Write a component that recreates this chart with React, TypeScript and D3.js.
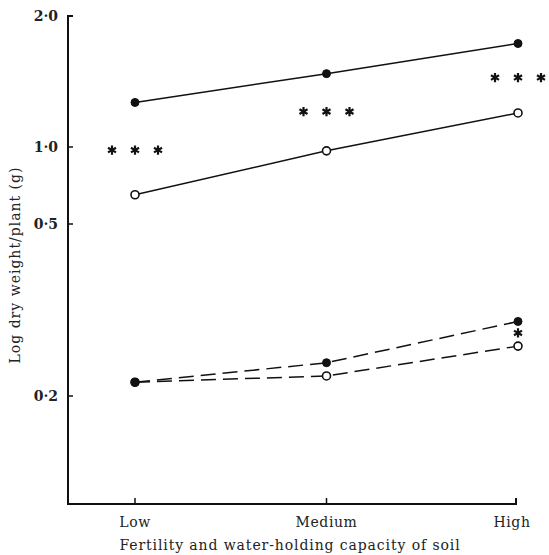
import React from 'react';
import * as d3 from 'd3';

// soil class on x, log dry weight per plant on y
const categories = ['Low', 'Medium', 'High'];
const yTicks = [2.0, 1.0, 0.5, 0.2];
const yTickLabels = ['2·0', '1·0', '0·5', '0·2'];

// solid lines (upper pair) and dashed lines (lower pair)
const solidFilled = [1.34, 1.56, 1.79];
const solidOpen = [0.69, 0.975, 1.26];
const dashedFilled = [0.224, 0.258, 0.33];
const dashedOpen = [0.224, 0.235, 0.287];

// significance marks: category, value, how many stars
const starCats = ['Low', 'Medium', 'High', 'High'];
const starValues = [0.98, 1.27, 1.53, 0.31];
const starCounts = [3, 3, 3, 1];

const W = 549;
const H = 555;

const App = () => {
  const x = d3.scalePoint<string>().domain(categories).range([135, 518]);
  // the printed axis is not evenly spaced, so map each tick piecewise
  const y = d3.scaleLinear().domain([0.2, 0.5, 1, 2]).range([396, 224, 147, 16]);

  const axisLeft = 68;
  const axisBottom = 504;
  const axisRight = 516;

  const line = d3
    .line<number>()
    .x((_, i) => x(categories[i]) as number)
    .y((d) => y(d));

  const star = d3.symbol().type(d3.symbolAsterisk).size(60)();

  const font = '"DejaVu Serif", "Liberation Serif", serif';

  const series = [
    { vals: solidFilled, dash: null, filled: true },
    { vals: solidOpen, dash: null, filled: false },
    { vals: dashedOpen, dash: '15,7', filled: false },
    { vals: dashedFilled, dash: '15,7', filled: true },
  ];

  return (
    <svg width={W} height={H} style={{ position: 'absolute', left: 0, top: 0, background: '#fff' }}>
      {/* axes */}
      <path
        d={`M${axisLeft + 5},${y(2)} H${axisLeft} V${axisBottom} H${axisRight} V${axisBottom - 6}`}
        fill="none"
        stroke="#111"
        strokeWidth={2}
      />
      {yTicks.map((t, i) => (
        <g key={t}>
          <line x1={axisLeft} x2={axisLeft + 5} y1={y(t)} y2={y(t)} stroke="#111" strokeWidth={1.5} />
          <text
            x={58}
            y={y(t)}
            dy="0.35em"
            textAnchor="end"
            fontFamily={font}
            fontSize={14}
            fontWeight={600}
            fill="#222"
          >
            {yTickLabels[i]}
          </text>
        </g>
      ))}
      {categories.map((c) => (
        <g key={c}>
          <line
            x1={c === 'High' ? axisRight : (x(c) as number)}
            x2={c === 'High' ? axisRight : (x(c) as number)}
            y1={axisBottom}
            y2={axisBottom - 6}
            stroke="#111"
            strokeWidth={1.5}
          />
          <text
            x={c === 'High' ? axisRight - 4 : (x(c) as number)}
            y={527}
            textAnchor="middle"
            fontFamily={font}
            fontSize={14}
            fill="#222"
            letterSpacing={0.6}
          >
            {c}
          </text>
        </g>
      ))}
      <text
        x={290}
        y={550}
        textAnchor="middle"
        fontFamily={font}
        fontSize={14}
        fill="#222"
        letterSpacing={0.9}
      >
        Fertility and water-holding capacity of soil
      </text>
      <text
        transform={`translate(20,${265}) rotate(-90)`}
        textAnchor="middle"
        fontFamily={font}
        fontSize={14}
        fill="#222"
        letterSpacing={1}
      >
        Log dry weight/plant (g)
      </text>

      {/* lines and points */}
      {series.map((s, si) => (
        <g key={si}>
          <path
            d={line(s.vals) as string}
            fill="none"
            stroke="#111"
            strokeWidth={1.5}
            strokeDasharray={s.dash ?? undefined}
          />
          {s.vals.map((v, i) => (
            <circle
              key={i}
              cx={x(categories[i]) as number}
              cy={y(v)}
              r={4}
              fill={s.filled ? '#111' : '#fff'}
              stroke="#111"
              strokeWidth={s.filled ? 1 : 1.6}
            />
          ))}
        </g>
      ))}

      {/* asterisks */}
      {starCats.map((c, i) =>
        d3.range(starCounts[i]).map((k) => {
          const off = starCounts[i] === 1 ? 0 : (k - 1) * 23;
          return (
            <path
              key={`${i}-${k}`}
              d={star as string}
              transform={`translate(${(x(c) as number) + off},${y(starValues[i])})`}
              fill="none"
              stroke="#111"
              strokeWidth={2.2}
            />
          );
        })
      )}
    </svg>
  );
};

export default App;
